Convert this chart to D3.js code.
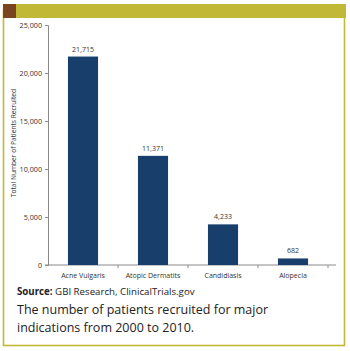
<!DOCTYPE html>
<html><head><meta charset="utf-8">
<script src="https://cdn.jsdelivr.net/npm/d3@7"></script>
<style>body{margin:0;background:#fff;}svg{display:block;font-family:"Open Sans",sans-serif;}</style>
</head><body><svg id="c" width="350" height="351"></svg>
<script>
const categories = ["Acne Vulgaris", "Atopic Dermatits", "Candidiasis", "Alopecia"];
const patients = [21715, 11371, 4233, 682];
const yTicks = [0, 5000, 10000, 15000, 20000, 25000];

const svg = d3.select("#c");
const olive = "#c1b836", brown = "#7b4420", navy = "#183f6b", axisCol = "#8a8a8a", txt = "#333";

// frame
svg.append("rect").attr("x", 3.5).attr("y", 10).attr("width", 341).attr("height", 335.5)
  .attr("fill", "none").attr("stroke", olive).attr("stroke-width", 1.6);
svg.append("rect").attr("x", 3).attr("y", 4).attr("width", 343).attr("height", 14).attr("fill", olive);
svg.append("rect").attr("x", 3).attr("y", 4).attr("width", 13).attr("height", 14).attr("fill", brown);

const x = d3.scaleBand().domain(categories).range([48, 328]).paddingInner(0.57).paddingOuter(0.285);
const y = d3.scaleLinear().domain([0, 25000]).range([265, 25]);

// y axis
const yAxis = d3.axisLeft(y).tickValues(yTicks).tickFormat(d3.format(",")).tickSize(3).tickPadding(3);
const gy = svg.append("g").attr("transform", "translate(48,0)").call(yAxis);
gy.select(".domain").attr("stroke", axisCol);
gy.selectAll(".tick line").attr("stroke", axisCol);
gy.selectAll("text").attr("font-size", 7.2).attr("fill", txt).attr("font-family", "Open Sans");

// x axis
svg.append("line").attr("x1", 45).attr("x2", 336).attr("y1", 265).attr("y2", 265).attr("stroke", axisCol);
svg.selectAll(".xt").data(categories).enter().append("line")
  .attr("x1", d => x(d) + x.bandwidth() / 2 + x.step() / 2)
  .attr("x2", d => x(d) + x.bandwidth() / 2 + x.step() / 2)
  .attr("y1", 265).attr("y2", 268).attr("stroke", axisCol);

svg.selectAll(".xl").data(categories).enter().append("text")
  .attr("x", d => x(d) + x.bandwidth() / 2).attr("y", 278)
  .attr("text-anchor", "middle").attr("font-size", 7).attr("fill", txt).text(d => d);

// bars
svg.selectAll(".bar").data(patients).enter().append("rect")
  .attr("x", (d, i) => x(categories[i])).attr("width", x.bandwidth())
  .attr("y", d => y(d)).attr("height", d => y(0) - y(d)).attr("fill", navy);

svg.selectAll(".vl").data(patients).enter().append("text")
  .attr("x", (d, i) => x(categories[i]) + x.bandwidth() / 2).attr("y", d => y(d) - 5)
  .attr("text-anchor", "middle").attr("font-size", 7).attr("fill", txt).text(d => d3.format(",")(d));

// y title
svg.append("text").attr("transform", "translate(16,143) rotate(-90)")
  .attr("text-anchor", "middle").attr("font-size", 6.6).attr("fill", txt)
  .text("Total Number of Patients Recruited");

// source
const src = svg.append("text").attr("x", 17).attr("y", 295).attr("font-size", 9.7).attr("fill", "#222");
src.append("tspan").attr("font-weight", "bold").text("Source:");
src.append("tspan").text(" GBI Research, ClinicalTrials.gov");

// caption
svg.append("text").attr("x", 17).attr("y", 313.5).attr("font-size", 12.5).attr("fill", "#222")
  .text("The number of patients recruited for major");
svg.append("text").attr("x", 17).attr("y", 331.5).attr("font-size", 12.5).attr("fill", "#222")
  .text("indications from 2000 to 2010.");
</script></body></html>
